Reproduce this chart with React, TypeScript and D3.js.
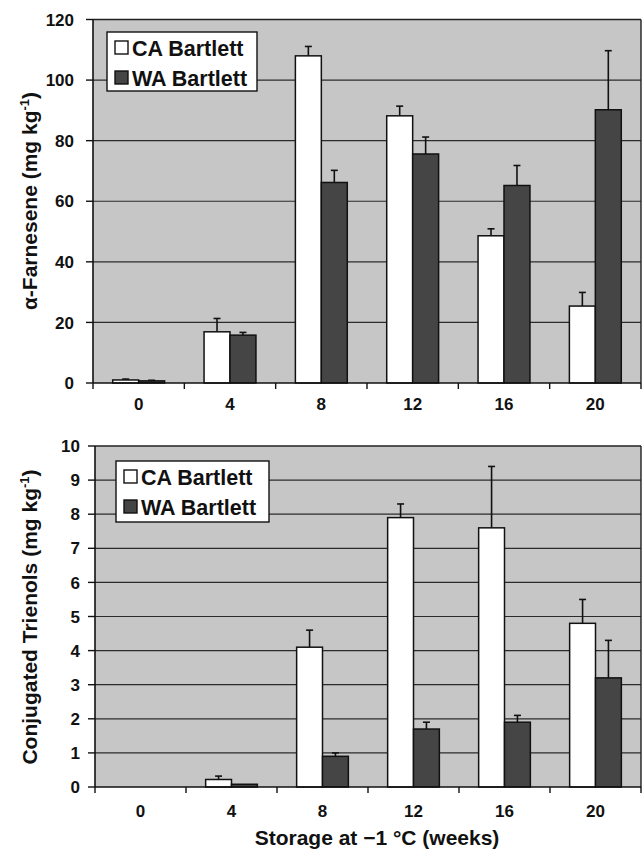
import * as d3 from "d3";
import React from "react";

// storage weeks at -1 °C
const WEEKS = ["0", "4", "8", "12", "16", "20"];
const SERIES = ["CA Bartlett", "WA Bartlett"];

// alpha-farnesene (mg/kg), values and upper error
const FARN_CA = [1.0, 16.9, 108.0, 88.2, 48.6, 25.4];
const FARN_CA_ERR = [0.3, 4.4, 3.1, 3.2, 2.3, 4.5];
const FARN_WA = [0.7, 15.8, 66.2, 75.6, 65.2, 90.2];
const FARN_WA_ERR = [0.2, 0.9, 4.0, 5.6, 6.6, 19.5];
const FARN_TICKS = [0, 20, 40, 60, 80, 100, 120];

// conjugated trienols (mg/kg)
const CT_CA = [0, 0.22, 4.1, 7.9, 7.6, 4.8];
const CT_CA_ERR = [0, 0.1, 0.5, 0.4, 1.8, 0.7];
const CT_WA = [0, 0.08, 0.9, 1.7, 1.9, 3.2];
const CT_WA_ERR = [0, 0, 0.1, 0.2, 0.2, 1.1];
const CT_TICKS = [0, 1, 2, 3, 4, 5, 6, 7, 8, 9, 10];

const COLORS = {
  plot: "#c6c6c6",
  grid: "#2b2b2b",
  ca: "#ffffff",
  wa: "#454545",
  text: "#111111",
};
const FONT = "Arial, 'Liberation Sans', sans-serif";

type PanelProps = {
  left: number;
  right: number;
  top: number;
  bottom: number;
  ca: number[];
  caErr: number[];
  wa: number[];
  waErr: number[];
  ticks: number[];
  tickGap: number;
  title: string;
  titleY: number;
  legend: { x: number; y: number; w: number; h: number };
  xLabelY: number;
};

const Panel = ({
  left,
  right,
  top,
  bottom,
  ca,
  caErr,
  wa,
  waErr,
  ticks,
  tickGap,
  title,
  titleY,
  legend,
  xLabelY,
}: PanelProps) => {
  const x0 = d3.scaleBand().domain(WEEKS).range([left, right]).padding(0);
  const x1 = d3
    .scaleBand()
    .domain(SERIES)
    .range([0, x0.bandwidth()])
    .paddingInner(0)
    .paddingOuter(0.76);
  const y = d3
    .scaleLinear()
    .domain([0, d3.max(ticks) as number])
    .range([bottom, top]);

  const series = [
    { name: SERIES[0], vals: ca, errs: caErr, fill: COLORS.ca },
    { name: SERIES[1], vals: wa, errs: waErr, fill: COLORS.wa },
  ];
  const boundaries = d3.range(WEEKS.length + 1).map((i) => left + i * x0.step());

  return (
    <g fontFamily={FONT}>
      <rect x={left} y={top} width={right - left} height={bottom - top} fill={COLORS.plot} />
      {ticks.slice(1, -1).map((t) => (
        <line key={t} x1={left} x2={right} y1={y(t)} y2={y(t)} stroke={COLORS.grid} strokeWidth={1.2} />
      ))}
      {/* frame */}
      <line x1={left} x2={right} y1={top} y2={top} stroke="#222" strokeWidth={1.4} />
      <line x1={right} x2={right} y1={top} y2={bottom} stroke="#222" strokeWidth={1.4} />

      {series.map((s) =>
        WEEKS.map((w, i) => {
          const bx = (x0(w) as number) + (x1(s.name) as number);
          const bw = x1.bandwidth();
          const v = s.vals[i];
          const cx = bx + bw / 2;
          return (
            <g key={s.name + w}>
              {s.errs[i] > 0 && (
                <g stroke="#111" strokeWidth={1.6}>
                  <line x1={cx} x2={cx} y1={y(v)} y2={y(v + s.errs[i])} />
                  <line x1={cx - 3.5} x2={cx + 3.5} y1={y(v + s.errs[i])} y2={y(v + s.errs[i])} />
                </g>
              )}
              {v > 0 && (
                <rect
                  x={bx}
                  y={y(v)}
                  width={bw}
                  height={y(0) - y(v)}
                  fill={s.fill}
                  stroke="#111"
                  strokeWidth={1.5}
                />
              )}
            </g>
          );
        })
      )}

      {/* axes */}
      <line x1={left} x2={left} y1={top} y2={bottom} stroke="#111" strokeWidth={1.6} />
      <line x1={left} x2={right} y1={bottom} y2={bottom} stroke="#111" strokeWidth={1.6} />
      {ticks.map((t) => (
        <g key={t}>
          <line x1={left - 7} x2={left} y1={y(t)} y2={y(t)} stroke="#111" strokeWidth={1.4} />
          <text
            x={left - tickGap}
            y={y(t)}
            dy="0.36em"
            textAnchor="end"
            fontSize={17}
            fontWeight="bold"
            fill={COLORS.text}
          >
            {t}
          </text>
        </g>
      ))}
      {boundaries.map((bx, i) => (
        <line key={i} x1={bx} x2={bx} y1={bottom} y2={bottom + 6} stroke="#111" strokeWidth={1.4} />
      ))}
      {WEEKS.map((w) => (
        <text
          key={w}
          x={(x0(w) as number) + x0.bandwidth() / 2}
          y={xLabelY}
          textAnchor="middle"
          fontSize={17}
          fontWeight="bold"
          fill={COLORS.text}
        >
          {w}
        </text>
      ))}

      {/* y title */}
      <text
        transform={`translate(37, ${titleY}) rotate(-90)`}
        textAnchor="middle"
        fontSize={21}
        fontWeight="bold"
        fill={COLORS.text}
      >
        {title} (mg kg
        <tspan dy={-8} fontSize={13}>
          -1
        </tspan>
        <tspan dy={8}>)</tspan>
      </text>

      {/* legend */}
      <g>
        <rect x={legend.x} y={legend.y} width={legend.w} height={legend.h} fill="#fff" stroke="#111" strokeWidth={1.4} />
        {series.map((s, i) => (
          <g key={s.name}>
            <rect
              x={legend.x + 8}
              y={legend.y + 9 + i * 30}
              width={13}
              height={13}
              fill={s.fill}
              stroke="#111"
              strokeWidth={1.4}
            />
            <text
              x={legend.x + 25}
              y={legend.y + 23.5 + i * 30}
              fontSize={21.5}
              fontWeight="bold"
              fill={COLORS.text}
            >
              {s.name}
            </text>
          </g>
        ))}
      </g>
    </g>
  );
};

const App = () => {
  return (
    <div style={{ position: "absolute", left: 0, top: 0 }}>
      <svg width={643} height={849} style={{ display: "block", background: "#fff" }}>
        <Panel
          left={93}
          right={641}
          top={19.5}
          bottom={383}
          ca={FARN_CA}
          caErr={FARN_CA_ERR}
          wa={FARN_WA}
          waErr={FARN_WA_ERR}
          ticks={FARN_TICKS}
          tickGap={19}
          title="α-Farnesene"
          titleY={201}
          legend={{ x: 107, y: 32, w: 150, h: 59 }}
          xLabelY={410}
        />
        <Panel
          left={95}
          right={641}
          top={446}
          bottom={787}
          ca={CT_CA}
          caErr={CT_CA_ERR}
          wa={CT_WA}
          waErr={CT_WA_ERR}
          ticks={CT_TICKS}
          tickGap={15}
          title="Conjugated Trienols"
          titleY={617}
          legend={{ x: 116, y: 461, w: 153, h: 61 }}
          xLabelY={817}
        />
        <text
          x={377}
          y={845}
          textAnchor="middle"
          fontFamily={FONT}
          fontSize={21}
          fontWeight="bold"
          fill={COLORS.text}
        >
          Storage at −1 °C (weeks)
        </text>
      </svg>
    </div>
  );
};

export default App;
